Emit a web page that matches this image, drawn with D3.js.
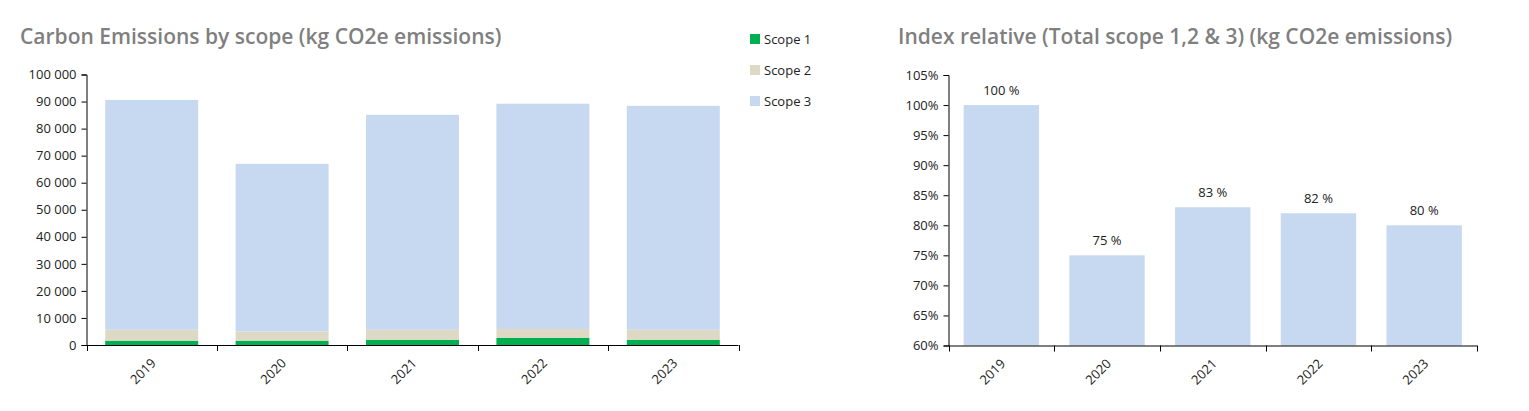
<!DOCTYPE html>
<html>
<head>
<meta charset="utf-8">
<script src="https://cdn.jsdelivr.net/npm/d3@7"></script>
<style>
    body { margin: 0; background: #fff; }
    svg { display: block; font-family: "Open Sans", sans-serif; }
    .chart-title { font-size: 21px; font-weight: 600; fill: #7f7f7f; }
    .axis text { font-size: 13px; fill: #222; font-family: "Open Sans", sans-serif; }
    .axis path, .axis line { stroke: #000; }
    .legend text { font-size: 13px; fill: #222; }
    .bar-label { font-size: 13px; fill: #222; }
</style>
</head>
<body>
<div id="chart"></div>
<script>
// data
const years = ["2019", "2020", "2021", "2022", "2023"];
const scopeNames = ["Scope 1", "Scope 2", "Scope 3"];
const scope1 = [1600, 1600, 1950, 2700, 1950];
const scope2 = [4050, 3400, 3700, 3200, 3700];
const scope3 = [84950, 61970, 79450, 83300, 82750];
const indexValues = [100, 75, 83, 82, 80];
const emissionTicks = [0, 10000, 20000, 30000, 40000, 50000, 60000, 70000, 80000, 90000, 100000];
const indexTicks = [60, 65, 70, 75, 80, 85, 90, 95, 100, 105];

const scopeColors = ["#00b050", "#ddd9c4", "#c6d9f0"];
const indexColor = "#c6d9f0";

const svg = d3.select("#chart").append("svg")
    .attr("width", 1529)
    .attr("height", 411);

const fmtSpace = d3.formatLocale({decimal: ",", thousands: " ", grouping: [3], currency: ["", ""]}).format(",d");

// band axis with ticks on the band edges, labels rotated
function drawYearAxis(g, x, yPos) {
    let axis = g.append("g")
        .attr("class", "axis")
        .attr("transform", `translate(0,${yPos})`);

    let r = x.range();
    axis.append("line")
        .attr("x1", r[0]).attr("x2", r[1])
        .attr("y1", 0.5).attr("y2", 0.5);

    let edges = x.domain().map(d => x(d) - x.step() * x.paddingInner() / 2);
    edges.push(r[1]);
    axis.selectAll(".edge")
        .data(edges)
        .enter().append("line")
        .attr("class", "edge")
        .attr("x1", d => Math.round(d) + 0.5).attr("x2", d => Math.round(d) + 0.5)
        .attr("y1", 0).attr("y2", 6);

    axis.selectAll(".year")
        .data(x.domain())
        .enter().append("text")
        .attr("class", "year")
        .attr("text-anchor", "end")
        .attr("transform", d => `translate(${x(d) + x.bandwidth() / 2 + 5},${19}) rotate(-45)`)
        .text(d => d);
}

/* left chart: stacked scopes */
let left = svg.append("g");

left.append("text")
    .attr("class", "chart-title")
    .attr("x", 20).attr("y", 44)
    .text("Carbon Emissions by scope (kg CO2e emissions)");

let x1 = d3.scaleBand()
    .domain(years)
    .range([86.5, 738.5])
    .paddingInner(0.287)
    .paddingOuter(0.1435);

let y1 = d3.scaleLinear()
    .domain([0, 100000])
    .range([345, 74.5]);

let rows = years.map((yr, i) => ({year: yr, "Scope 1": scope1[i], "Scope 2": scope2[i], "Scope 3": scope3[i]}));
let stacked = d3.stack().keys(scopeNames)(rows);

left.selectAll(".layer")
    .data(stacked)
    .enter().append("g")
    .attr("class", "layer")
    .attr("fill", (d, i) => scopeColors[i])
    .selectAll("rect")
    .data(d => d)
    .enter().append("rect")
    .attr("x", d => x1(d.data.year))
    .attr("width", x1.bandwidth())
    .attr("y", d => y1(d[1]))
    .attr("height", d => y1(d[0]) - y1(d[1]));

left.append("g")
    .attr("class", "axis")
    .attr("transform", "translate(86.5,0)")
    .call(d3.axisLeft(y1).tickValues(emissionTicks).tickFormat(fmtSpace).tickSizeOuter(0).tickSize(5).tickPadding(5));

drawYearAxis(left, x1, 345);

// legend
let legend = left.append("g").attr("class", "legend");
let items = legend.selectAll("g")
    .data(scopeNames)
    .enter().append("g")
    .attr("transform", (d, i) => `translate(750,${34 + i * 31})`);
items.append("rect")
    .attr("width", 10).attr("height", 10)
    .attr("fill", (d, i) => scopeColors[i]);
items.append("text")
    .attr("x", 14).attr("y", 10)
    .text(d => d);

/* right chart: index */
let right = svg.append("g");

right.append("text")
    .attr("class", "chart-title")
    .attr("x", 898).attr("y", 44)
    .text("Index relative (Total scope 1,2 & 3) (kg CO2e emissions)");

let x2 = d3.scaleBand()
    .domain(years)
    .range([948.5, 1477])
    .paddingInner(0.287)
    .paddingOuter(0.1435);

let y2 = d3.scaleLinear()
    .domain([60, 105])
    .range([345.5, 75]);

right.selectAll(".bar")
    .data(indexValues)
    .enter().append("rect")
    .attr("class", "bar")
    .attr("fill", indexColor)
    .attr("x", (d, i) => x2(years[i]))
    .attr("width", x2.bandwidth())
    .attr("y", d => y2(d))
    .attr("height", d => y2(60) - y2(d));

right.selectAll(".bar-label")
    .data(indexValues)
    .enter().append("text")
    .attr("class", "bar-label")
    .attr("text-anchor", "middle")
    .attr("x", (d, i) => x2(years[i]) + x2.bandwidth() / 2)
    .attr("y", d => y2(d) - 10)
    .text(d => d + " %");

right.append("g")
    .attr("class", "axis")
    .attr("transform", "translate(948.5,0)")
    .call(d3.axisLeft(y2).tickValues(indexTicks).tickFormat(d => d + "%").tickSizeOuter(0).tickSize(5).tickPadding(5));

drawYearAxis(right, x2, 345.5);
</script>
</body>
</html>
